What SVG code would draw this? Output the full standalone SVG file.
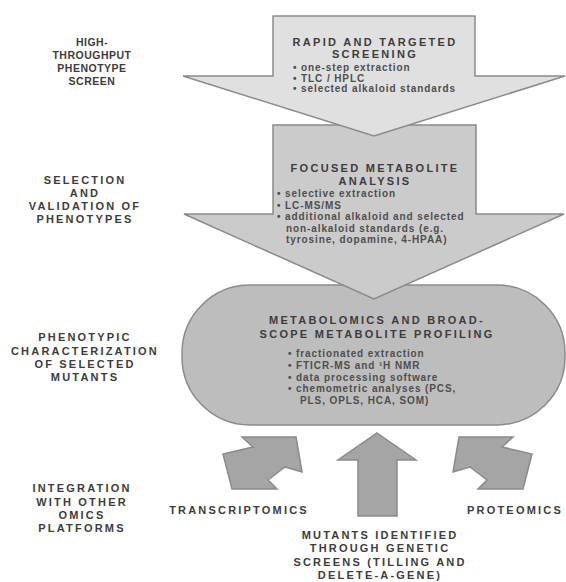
<svg xmlns="http://www.w3.org/2000/svg" width="566" height="582" viewBox="0 0 566 582">
<style>
  .lbl{font-family:"Liberation Sans",Arial,sans-serif;font-size:11px;font-weight:bold;letter-spacing:2.2px;fill:#3c3c3c;text-anchor:middle}
  .lbl2{font-family:"Liberation Sans",Arial,sans-serif;font-size:10.5px;font-weight:bold;letter-spacing:0.5px;fill:#3c3c3c;text-anchor:middle}
  .hd{font-family:"Liberation Sans",Arial,sans-serif;font-size:11px;font-weight:bold;letter-spacing:2.3px;fill:#3c3c3c;text-anchor:middle}
  .bl{font-family:"Liberation Sans",Arial,sans-serif;font-size:10px;font-weight:bold;letter-spacing:0.9px;fill:#4e4e4e}
  .shape{stroke:#8a8a8a;stroke-width:1.5;stroke-linejoin:miter}
</style>
<rect width="566" height="582" fill="#ffffff"/>

<g id="label-high-throughput">
  <text class="lbl2" x="92" y="45.5">HIGH-</text>
  <text class="lbl2" x="92" y="58.5">THROUGHPUT</text>
  <text class="lbl2" x="92" y="71.5">PHENOTYPE</text>
  <text class="lbl2" x="92" y="84.5">SCREEN</text>
</g>
<g id="label-selection">
  <text class="lbl" x="85" y="184">SELECTION</text>
  <text class="lbl" x="85" y="197">AND</text>
  <text class="lbl" x="85" y="210">VALIDATION OF</text>
  <text class="lbl" x="85" y="223">PHENOTYPES</text>
</g>
<g id="label-phenotypic">
  <text class="lbl" x="85" y="341">PHENOTYPIC</text>
  <text class="lbl" x="85" y="354.5">CHARACTERIZATION</text>
  <text class="lbl" x="85" y="367.5">OF SELECTED</text>
  <text class="lbl" x="85" y="381">MUTANTS</text>
</g>
<g id="label-integration">
  <text class="lbl" x="82" y="492">INTEGRATION</text>
  <text class="lbl" x="82" y="506">WITH OTHER</text>
  <text class="lbl" x="82" y="519">OMICS</text>
  <text class="lbl" x="82" y="532">PLATFORMS</text>
</g>

<g id="node-metabolomics">
  <rect class="shape" x="182" y="285" width="383" height="140" rx="68" ry="68" fill="#bdbdbd"/>
  <text class="hd" x="377" y="324">METABOLOMICS AND BROAD-</text>
  <text class="hd" x="377" y="338">SCOPE METABOLITE PROFILING</text>
  <text class="bl" x="288" y="356.5">• fractionated extraction</text>
  <text class="bl" x="288" y="368.5">• FTICR-MS and ¹H NMR</text>
  <text class="bl" x="288" y="380.5">• data processing software</text>
  <text class="bl" x="288" y="391.5">• chemometric analyses (PCS,</text>
  <text class="bl" x="300" y="403.5">PLS, OPLS, HCA, SOM)</text>
</g>

<g id="node-focused">
  <polygon class="shape" points="273,125 476,125 476,214 564,214 374,299 184,214 273,214" fill="#cbcbcb"/>
  <text class="hd" x="375" y="172">FOCUSED METABOLITE</text>
  <text class="hd" x="375" y="185">ANALYSIS</text>
  <text class="bl" x="277" y="197">• selective extraction</text>
  <text class="bl" x="277" y="208.5">• LC-MS/MS</text>
  <text class="bl" x="277" y="220">• additional alkaloid and selected</text>
  <text class="bl" x="286" y="231.5">non-alkaloid standards (e.g.</text>
  <text class="bl" x="286" y="243">tyrosine, dopamine, 4-HPAA)</text>
</g>

<g id="node-rapid">
  <polygon class="shape" points="273,16 475,16 475,76 565,76 374,136 183,76 273,76" fill="#e0e0e0"/>
  <text class="hd" x="375" y="46">RAPID AND TARGETED</text>
  <text class="hd" x="375" y="57.5">SCREENING</text>
  <text class="bl" x="293" y="71">• one-step extraction</text>
  <text class="bl" x="293" y="81.5">• TLC / HPLC</text>
  <text class="bl" x="293" y="92">• selected alkaloid standards</text>
</g>

<g id="connectors">
  <polygon class="shape" points="296,437 302,472 285,467 268,480 277,489 232,489 223,454 253,447 242,437" fill="#a5a5a5"/>
  <polygon class="shape" points="377,433 416,460 397,460 397,516 358,516 358,460 338,460" fill="#a5a5a5"/>
  <polygon class="shape" points="459,437 453,472 470,467 487,480 478,489 523,489 532,454 502,447 513,437" fill="#a5a5a5"/>
</g>

<g id="label-transcriptomics">
  <text class="lbl" x="239" y="514">TRANSCRIPTOMICS</text>
</g>
<g id="label-proteomics">
  <text class="lbl" x="515" y="514">PROTEOMICS</text>
</g>
<g id="label-mutants">
  <text class="lbl" x="380" y="539">MUTANTS IDENTIFIED</text>
  <text class="lbl" x="380" y="552">THROUGH GENETIC</text>
  <text class="lbl" x="380" y="566">SCREENS (TILLING AND</text>
  <text class="lbl" x="380" y="579">DELETE-A-GENE)</text>
</g>
</svg>
